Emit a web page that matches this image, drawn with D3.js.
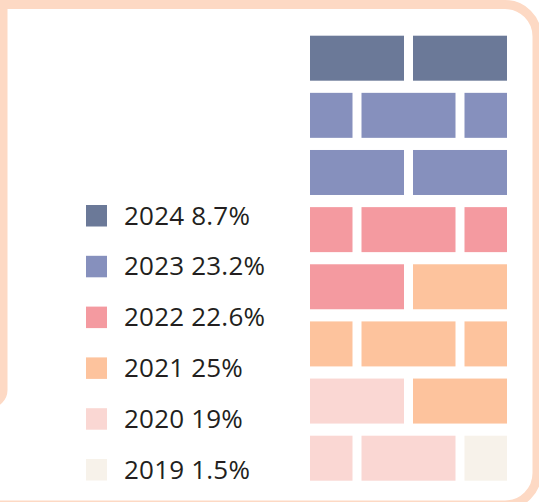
<!DOCTYPE html>
<html>
<head>
<meta charset="utf-8">
<script src="https://cdn.jsdelivr.net/npm/d3@7"></script>
<style>
  body { margin: 0; background: white; }
</style>
</head>
<body>
<script>
// legend data
var years = ["2024", "2023", "2022", "2021", "2020", "2019"];
var shares = [8.7, 23.2, 22.6, 25, 19, 1.5];
var colors = ["#6b7998", "#8690bd", "#f49aa0", "#fdc39d", "#fad7d3", "#f7f2ea"];

// one entry per brick, read row by row from the top, left to right
var brickYears = [
  "2024", "2024",
  "2023", "2023", "2023",
  "2023", "2023",
  "2022", "2022", "2022",
  "2022", "2021",
  "2021", "2021", "2021",
  "2020", "2021",
  "2020", "2020", "2019"
];

var width = 539, height = 502;

var svg = d3.select("body")
  .append("svg")
    .attr("width", width)
    .attr("height", height);

// frames
svg.append("path")
  .attr("d", "M -20,4.5 H 505 A 32 32 0 0 1 537 36.5 V 473 A 32 32 0 0 1 505 505 H -20")
  .attr("fill", "none")
  .attr("stroke", "#fdd9c4")
  .attr("stroke-width", 9);

svg.append("path")
  .attr("d", "M 3.5,-20 V 390 A 14 14 0 0 1 -10.5 404 H -30")
  .attr("fill", "none")
  .attr("stroke", "#fdd9c4")
  .attr("stroke-width", 8);

// build the wall: even rows = two full bricks, odd rows = half, full, half
var rowPatterns = [[2, 2], [1, 2, 1]];
var bricks = [];
var k = 0;
for (var r = 0; r < 8; r++) {
  var start = 0;
  rowPatterns[r % 2].forEach(function(len) {
    bricks.push({row: r, start: start, end: start + len, year: brickYears[k++]});
    start += len;
  });
}

var gap = 9;
var x = d3.scaleLinear()
  .domain([0, 4])
  .range([310, 507 + gap]);

var y = d3.scaleBand()
  .domain(d3.range(8))
  .range([35.7, 480.7])
  .paddingInner(0.2125)
  .paddingOuter(0);

var color = d3.scaleOrdinal()
  .domain(years)
  .range(colors);

svg.append("g")
  .selectAll("rect")
  .data(bricks)
  .enter()
  .append("rect")
    .attr("x", function(d) { return x(d.start); })
    .attr("y", function(d) { return y(d.row); })
    .attr("width", function(d) { return x(d.end) - x(d.start) - gap; })
    .attr("height", y.bandwidth())
    .attr("fill", function(d) { return color(d.year); });

// legend
var ly = d3.scalePoint()
  .domain(years)
  .range([205, 459]);

var legend = svg.append("g")
  .selectAll("g")
  .data(years)
  .enter()
  .append("g")
    .attr("transform", function(d) { return "translate(0," + ly(d) + ")"; });

legend.append("rect")
  .attr("x", 86)
  .attr("width", 21)
  .attr("height", 21.5)
  .attr("fill", function(d) { return color(d); });

legend.append("text")
  .attr("x", 124)
  .attr("y", 19.5)
  .style("font-family", "'Open Sans', sans-serif")
  .style("font-size", "26px")
  .style("letter-spacing", "0.2px")
  .style("fill", "#231f20")
  .text(function(d, i) { return d + " " + shares[i] + "%"; });
</script>
</body>
</html>
